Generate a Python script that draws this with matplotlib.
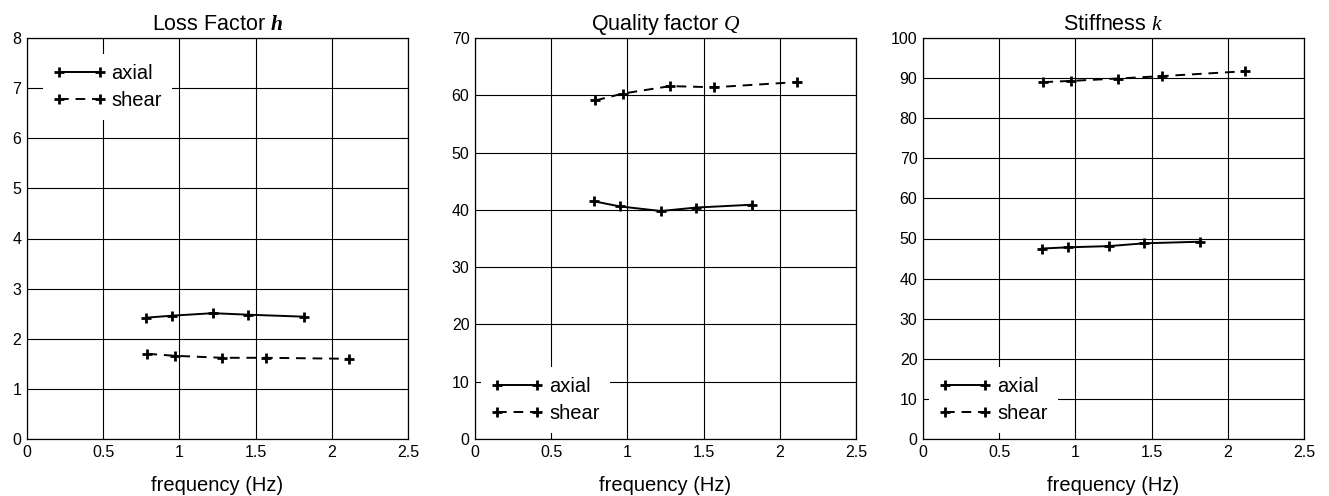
import matplotlib
matplotlib.use("Agg")
import matplotlib.pyplot as plt

plt.rcParams['font.family'] = ['Liberation Sans', 'DejaVu Sans']
plt.rcParams['mathtext.fontset'] = 'custom'
plt.rcParams['mathtext.it'] = 'Liberation Serif:italic'
plt.rcParams['mathtext.bf'] = 'Liberation Serif:italic:bold'
plt.rcParams['mathtext.rm'] = 'Liberation Sans'

# frequencies (Hz)
freq_axial = [0.78, 0.95, 1.22, 1.45, 1.82]
freq_shear = [0.79, 0.97, 1.28, 1.57, 2.11]

# loss factor
loss_axial = [2.42, 2.46, 2.51, 2.48, 2.44]
loss_shear = [1.70, 1.66, 1.62, 1.62, 1.60]

# quality factor
q_axial = [41.5, 40.6, 39.8, 40.4, 40.9]
q_shear = [59.1, 60.3, 61.6, 61.4, 62.3]

# stiffness
k_axial = [47.5, 47.8, 48.1, 48.8, 49.2]
k_shear = [89.0, 89.3, 89.9, 90.5, 91.7]

titles = [r"Loss Factor $\mathbf{h}$", r"Quality factor $\mathit{Q}$", r"Stiffness $\mathit{k}$"]
ylims = [(0, 8), (0, 70), (0, 100)]
yticks = [range(0, 9, 1), range(0, 71, 10), range(0, 101, 10)]
xticks = [0, 0.5, 1, 1.5, 2, 2.5]
xticklabels = ["0", "0.5", "1", "1.5", "2", "2.5"]
data = [(loss_axial, loss_shear), (q_axial, q_shear), (k_axial, k_shear)]
legend_loc = ["upper left", "lower left", "lower left"]
legend_pad = [0.8, 0.3, 0.3]

fig = plt.figure(figsize=(13.29, 4.96), dpi=100)
lefts = [27, 475, 923]
W, H = 1329, 496

for i in range(3):
    ax = fig.add_axes([lefts[i] / W, (H - 439) / H, 381 / W, 401 / H])
    ya, ys = data[i]
    style = dict(color='black', marker='+', markersize=6.5, markeredgewidth=2.0, linewidth=1.4)
    ax.plot(freq_axial, ya, linestyle='-', label='axial', **style)
    ax.plot(freq_shear, ys, linestyle=(0, (5, 3.5)), label='shear', **style)
    ax.set_xlim(0, 2.5)
    ax.set_ylim(*ylims[i])
    ax.set_xticks(xticks)
    ax.set_xticklabels(xticklabels)
    ax.set_yticks(list(yticks[i]))
    ax.grid(True, color='black', linewidth=0.8)
    ax.set_axisbelow(True)
    ax.tick_params(length=0, labelsize=11.5, pad=4)
    for sp in ax.spines.values():
        sp.set_linewidth(0.9)
    ax.set_title(titles[i], fontsize=15.5, pad=6)
    ax.set_xlabel("frequency (Hz)", fontsize=14.5, labelpad=12)
    leg = ax.legend(loc=legend_loc[i], fontsize=14.5, frameon=True, framealpha=1,
                    edgecolor='white', fancybox=False, handlelength=2.6, numpoints=2,
                    handletextpad=0.3, labelspacing=0.4, borderaxespad=legend_pad[i],
                    borderpad=0.5)
    leg.get_frame().set_linewidth(0)

fig.savefig("out.png", dpi=100)
